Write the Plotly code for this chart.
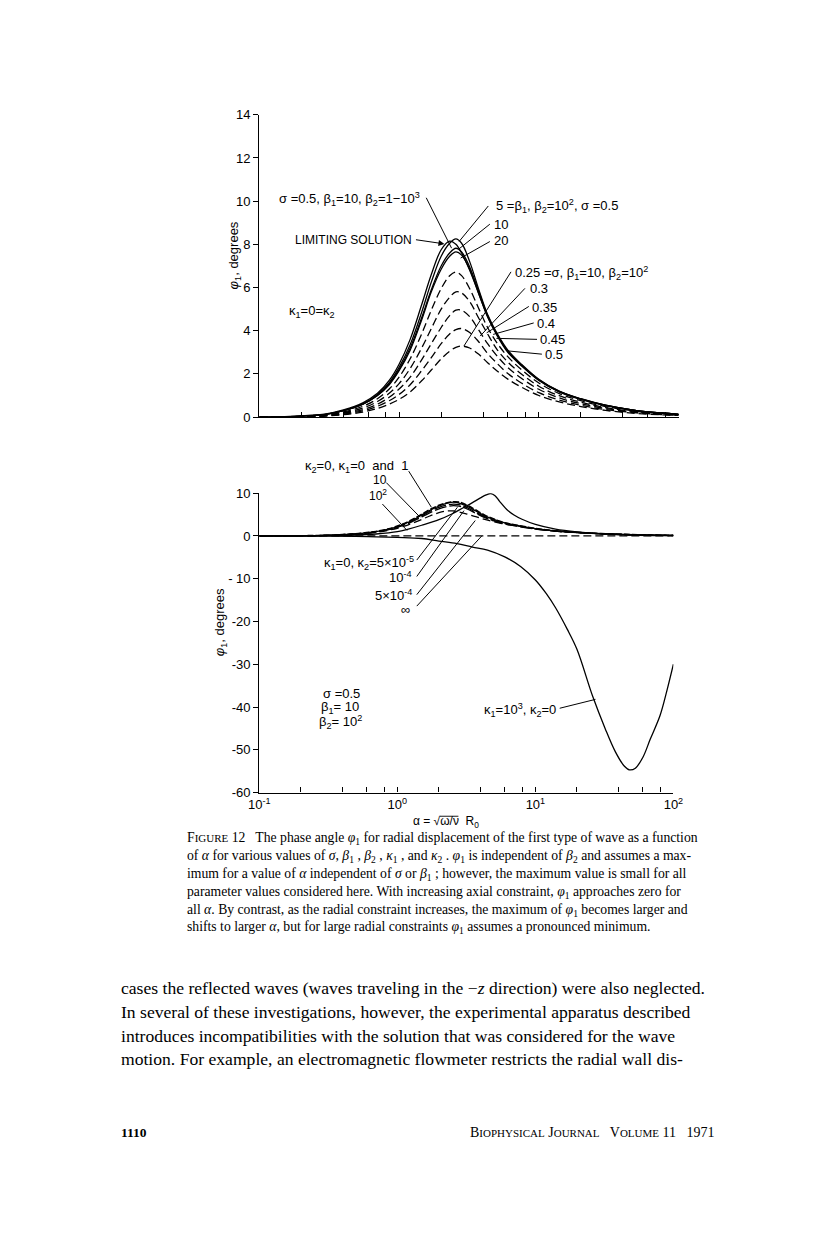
import plotly.graph_objects as go

# ---------------- data ----------------
ALPHA = [0.1, 0.2, 0.3, 0.4, 0.55, 0.7, 0.85, 1.0, 1.2, 1.45, 1.7, 2.0, 2.3, 2.55,
         2.8, 3.2, 3.7, 4.3, 5.0, 6.0, 7.5, 10, 14, 20, 30, 50, 75, 100]

# upper panel: kappa1 = 0 = kappa2
top_beta1_5 = [0.0, 0.05, 0.13, 0.3, 0.6, 1.05, 1.6, 2.3, 3.35, 4.85, 6.25, 7.45, 8.05, 8.25,
               8.05, 7.2, 5.95, 4.75, 3.9, 3.1, 2.45, 1.75, 1.2, 0.85, 0.55, 0.3, 0.19, 0.13]
top_beta1_10 = [0.0, 0.05, 0.13, 0.3, 0.6, 1.0, 1.55, 2.2, 3.2, 4.6, 5.9, 7.0, 7.6, 7.82,
                7.65, 6.95, 5.85, 4.7, 3.85, 3.05, 2.4, 1.72, 1.18, 0.83, 0.54, 0.3, 0.19, 0.13]
top_beta1_20 = [0.0, 0.05, 0.13, 0.3, 0.6, 1.0, 1.5, 2.15, 3.1, 4.5, 5.8, 6.85, 7.45, 7.65,
                7.5, 6.85, 5.75, 4.65, 3.8, 3.0, 2.38, 1.7, 1.17, 0.82, 0.53, 0.3, 0.19, 0.13]
top_limiting = [0.0, 0.06, 0.15, 0.33, 0.66, 1.1, 1.7, 2.45, 3.6, 5.2, 6.6, 7.75, 8.15, 8.0,
                7.6, 6.8, 5.75, 4.65, 3.85, 3.05, 2.42, 1.73, 1.19, 0.84, 0.55, 0.3, 0.19, 0.13]
top_sigma_045 = [0.0, 0.04, 0.11, 0.24, 0.5, 0.85, 1.3, 1.85, 2.7, 3.85, 4.95, 5.95, 6.55, 6.72,
                 6.55, 5.95, 5.05, 4.15, 3.45, 2.8, 2.2, 1.58, 1.09, 0.76, 0.49, 0.27, 0.17, 0.12]
top_sigma_040 = [0.0, 0.03, 0.09, 0.2, 0.42, 0.72, 1.1, 1.55, 2.25, 3.2, 4.1, 5.0, 5.55, 5.8,
                 5.75, 5.35, 4.6, 3.85, 3.15, 2.55, 2.0, 1.43, 0.99, 0.69, 0.44, 0.25, 0.15, 0.11]
top_sigma_035 = [0.0, 0.03, 0.08, 0.17, 0.35, 0.6, 0.92, 1.3, 1.85, 2.65, 3.4, 4.15, 4.7, 4.95,
                 4.95, 4.65, 4.05, 3.4, 2.85, 2.3, 1.8, 1.29, 0.89, 0.62, 0.4, 0.22, 0.14, 0.1]
top_sigma_030 = [0.0, 0.02, 0.06, 0.14, 0.29, 0.5, 0.76, 1.05, 1.5, 2.15, 2.75, 3.4, 3.85, 4.05,
                 4.1, 3.92, 3.5, 2.95, 2.5, 2.02, 1.58, 1.13, 0.79, 0.55, 0.35, 0.2, 0.12, 0.09]
top_sigma_025 = [0.0, 0.02, 0.05, 0.11, 0.23, 0.4, 0.6, 0.82, 1.17, 1.68, 2.18, 2.7, 3.05, 3.23,
                 3.29, 3.2, 2.92, 2.52, 2.15, 1.76, 1.39, 1.0, 0.7, 0.49, 0.31, 0.17, 0.11, 0.08]

# lower panel: sigma = 0.5, beta1 = 10, beta2 = 10^2
bot_k1_0 = [0.0, 0.05, 0.13, 0.3, 0.6, 1.0, 1.55, 2.2, 3.2, 4.6, 5.9, 7.0, 7.65, 7.9,
            7.7, 6.95, 5.85, 4.7, 3.85, 3.05, 2.4, 1.72, 1.18, 0.83, 0.54, 0.3, 0.19, 0.13]
bot_k1_10 = [0.0, 0.05, 0.14, 0.32, 0.63, 1.05, 1.6, 2.3, 3.35, 4.8, 6.1, 7.15, 7.75, 8.0,
             7.9, 7.2, 6.05, 4.85, 3.95, 3.1, 2.45, 1.75, 1.2, 0.84, 0.55, 0.3, 0.19, 0.13]
bot_k2_5em5 = [0.0, 0.05, 0.13, 0.29, 0.58, 0.97, 1.5, 2.1, 3.05, 4.4, 5.65, 6.7, 7.25, 7.45,
               7.3, 6.6, 5.55, 4.45, 3.65, 2.9, 2.3, 1.65, 1.14, 0.8, 0.52, 0.29, 0.18, 0.12]
bot_k2_1em4 = [0.0, 0.05, 0.12, 0.28, 0.55, 0.93, 1.43, 2.0, 2.9, 4.2, 5.35, 6.35, 6.9, 7.1,
               6.95, 6.3, 5.3, 4.3, 3.5, 2.8, 2.2, 1.6, 1.1, 0.77, 0.5, 0.28, 0.17, 0.12]
bot_k2_5em4 = [0.0, 0.04, 0.11, 0.25, 0.5, 0.85, 1.3, 1.8, 2.6, 3.65, 4.6, 5.45, 5.85, 5.85,
               5.6, 5.1, 4.5, 3.85, 3.3, 2.75, 2.3, 1.7, 1.15, 0.8, 0.51, 0.28, 0.17, 0.12]

ALPHA_INF = [0.1, 100]
bot_k2_inf = [0.0, 0.0]

ALPHA_K100 = [0.1, 0.2, 0.3, 0.5, 0.7, 1.0, 1.2, 1.5, 2.0, 2.5, 3.0, 3.5, 4.0, 4.4, 4.75,
              5.1, 5.5, 6.2, 7.0, 8.0, 10, 14, 20, 30, 50, 100]
bot_k1_100 = [0.0, 0.02, 0.06, 0.2, 0.45, 1.0, 1.6, 2.5, 3.8, 5.2, 6.6, 7.8, 8.9, 9.6, 9.9,
              9.4, 8.1, 6.2, 4.9, 3.9, 2.7, 1.6, 0.95, 0.5, 0.2, 0.06]

ALPHA_K1000 = [0.1, 0.3, 0.5, 0.7, 1.0, 1.5, 2.0, 2.7, 3.5, 4.5, 6.0, 7.85, 10, 12, 14, 17,
               20, 26, 32, 38, 44, 48, 53, 60, 68, 80, 90, 100]
bot_k1_1000 = [0.0, -0.02, -0.1, -0.2, -0.35, -0.6, -1.2, -1.8, -2.6, -3.3, -4.9, -7.2, -10.3,
               -13.5, -16.8, -21.8, -26.5, -37.5, -45.0, -50.5, -53.8, -54.7, -54.3, -51.8,
               -47.5, -42.0, -36.0, -30.0]

X_TICKVALS = [0.1, 0.2, 0.4, 0.6, 0.8, 1, 2, 4, 6, 8, 10, 20, 40, 60, 80, 100]
X_TICKTEXT = ["10<sup>-1</sup>", "", "", "", "", "10<sup>0</sup>", "", "", "", "",
              "10<sup>1</sup>", "", "", "", "", "10<sup>2</sup>"]
Y1_TICKVALS = [0, 2, 4, 6, 8, 10, 12, 14]
Y1_TICKTEXT = ["0", "2", "4", "6", "8", "10", "12", "14"]
Y2_TICKVALS = [10, 0, -10, -20, -30, -40, -50, -60]
Y2_TICKTEXT = ["10", "0", "- 10", "-20", "-30", "-40", "-50", "-60"]

# ---------------- page geometry helpers ----------------
W, H = 816, 1247


def PX(x):
    return x / W


def PY(y):
    return 1 - y / H


SANS = "Liberation Sans"
SERIF = "Liberation Serif"
DASH = "8px,4px"
LONGDASH = "12px,3px"
LW = 1.3

fig = go.Figure()


def add(xs, ys, dash="solid", axis=1, width=LW):
    fig.add_trace(go.Scatter(
        x=xs, y=ys, mode="lines",
        xaxis="x" if axis == 1 else "x2", yaxis="y" if axis == 1 else "y2",
        line=dict(color="black", width=width, dash=dash, shape="spline", smoothing=1.0),
        hoverinfo="skip", showlegend=False))


# upper panel
for ys in [top_sigma_025, top_sigma_030, top_sigma_035, top_sigma_040, top_sigma_045]:
    add(ALPHA, ys, DASH, 1)
for ys in [top_beta1_20, top_beta1_10, top_beta1_5, top_limiting]:
    add(ALPHA, ys, "solid", 1)

# lower panel
add(ALPHA_INF, bot_k2_inf, DASH, 2)
add(ALPHA, bot_k2_5em4, DASH, 2)
add(ALPHA, bot_k2_1em4, LONGDASH, 2)
add(ALPHA, bot_k2_5em5, LONGDASH, 2)
add(ALPHA, bot_k1_10, "6px,2px", 2, 1.6)
add(ALPHA, bot_k1_0, "solid", 2)
add(ALPHA_K100, bot_k1_100, "solid", 2)
add(ALPHA_K1000, bot_k1_1000, "solid", 2)

axis_common = dict(showgrid=False, zeroline=False, showline=True, linecolor="black",
                   linewidth=1.4, tickcolor="black", tickwidth=1.2,
                   tickfont=dict(family=SANS, size=13, color="black"))

layout = dict(
    width=W, height=H, autosize=False,
    margin=dict(l=0, r=0, t=0, b=0),
    paper_bgcolor="white", plot_bgcolor="white",
    showlegend=False, hovermode=False,
    xaxis=dict(type="log", range=[-1, 2], domain=[PX(246.7), PX(677)], anchor="y",
               tickmode="array", tickvals=X_TICKVALS, ticktext=[""] * len(X_TICKVALS),
               ticks="inside", ticklen=5, **axis_common),
    yaxis=dict(range=[0, 14], domain=[PY(407), PY(101)], anchor="x",
               tickmode="array", tickvals=Y1_TICKVALS, ticktext=Y1_TICKTEXT,
               ticks="outside", ticklen=5, **axis_common),
    xaxis2=dict(type="log", range=[-1, 2], domain=[PX(246.7), PX(671.7)], anchor="y2",
                tickmode="array", tickvals=X_TICKVALS, ticktext=X_TICKTEXT,
                ticks="inside", ticklen=5, **axis_common),
    yaxis2=dict(range=[-60, 10], domain=[PY(787), PY(484)], anchor="x2",
                tickmode="array", tickvals=Y2_TICKVALS, ticktext=Y2_TICKTEXT,
                ticks="outside", ticklen=5, **axis_common),
)

annotations = []
shapes = []


def text(s, x, y, anchor="left", size=13, family=SANS, angle=0):
    annotations.append(dict(text=s, x=PX(x), y=PY(y), xref="paper", yref="paper",
                            xanchor=anchor, yanchor="middle", showarrow=False,
                            textangle=angle,
                            font=dict(family=family, size=size, color="black")))


def seg(x0, y0, x1, y1, w=1.0):
    shapes.append(dict(type="line", xref="paper", yref="paper",
                       x0=PX(x0), y0=PY(y0), x1=PX(x1), y1=PY(y1),
                       line=dict(color="black", width=w)))


# axis titles
text("<i>φ</i><sub>1</sub>, degrees", 221, 243, "center", 13, SANS, -90)
text("<i>φ</i><sub>1</sub>, degrees", 207, 615, "center", 13, SANS, -90)
text("α = √ω/ν  R<sub>0</sub>", 438, 817, "center", 12)
seg(432, 811, 451, 811, 0.9)  # vinculum of the square root

# upper panel labels
text("σ =0.5, β<sub>1</sub>=10, β<sub>2</sub>=1−10<sup>3</sup>", 414, 186, "right")
seg(418, 185, 444, 236)
text("LIMITING SOLUTION", 405, 228, "right", 12)
annotations.append(dict(x=PX(436.7), y=PY(231.7), xref="paper", yref="paper",
                        ax=-30, ay=-4.4, axref="pixel", ayref="pixel",
                        text="", showarrow=True, arrowhead=2, arrowsize=1.2,
                        arrowwidth=1.0, arrowcolor="black"))
text("5 =β<sub>1</sub>, β<sub>2</sub>=10<sup>2</sup>, σ =0.5", 488, 193)
seg(481.7, 193.3, 451.7, 229.3)
text("10", 485, 212)
seg(483.3, 211.7, 451.7, 236.7)
text("20", 485, 228)
seg(483.3, 229.3, 453.3, 246)
text("0.25 =σ, β<sub>1</sub>=10, β<sub>2</sub>=10<sup>2</sup>", 507, 261)
seg(505, 260, 456.7, 335)
text("0.3", 522, 277)
seg(519.3, 276.7, 473.3, 325)
text("0.35", 525, 296)
seg(523.3, 295, 480, 321.7)
text("0.4", 530, 312)
seg(528.3, 311.7, 486.7, 323.3)
text("0.45", 533, 328)
seg(531.7, 328.3, 490, 327.3)
text("0.5", 538, 344)
seg(536.7, 343.3, 501.7, 340)
text("κ<sub>1</sub>=0=κ<sub>2</sub>", 275, 300)

# lower panel labels
text("κ<sub>2</sub>=0, κ<sub>1</sub>=0  and  1", 292, 457)
seg(400, 461.7, 423.3, 498.3)
text("10", 361, 471, "left", 12)
seg(377, 473.3, 411.7, 508.3)
text("10<sup>2</sup>", 357, 486, "left", 12)
seg(373, 495, 398.3, 521.7)
text("κ<sub>1</sub>=0, κ<sub>2</sub>=5×10<sup>-5</sup>", 407, 555, "right")
seg(408.3, 551.7, 450, 498.3)
text("10<sup>-4</sup>", 405, 569, "right")
seg(408.3, 568.3, 456.7, 501.7)
text("5×10<sup>-4</sup>", 405, 587, "right")
seg(408.3, 586.7, 468.3, 511.7)
text("∞", 403, 602, "right")
seg(408.3, 598.3, 475, 527.3)
text("σ =0.5", 331, 687, "center")
text("β<sub>1</sub>= 10", 329, 701, "center")
text("β<sub>2</sub>= 10<sup>2</sup>", 330, 716, "center")
text("κ<sub>1</sub>=10<sup>3</sup>, κ<sub>2</sub>=0", 553, 703, "right")
seg(555, 701.7, 591.7, 692.7)

# caption
CAPTION = [
    "F<span style='font-size:11px'>IGURE</span> 12   The phase angle <i>φ</i><sub>1</sub> for radial displacement of the first type of wave as a function",
    "of <i>α</i> for various values of <i>σ</i>, <i>β</i><sub>1</sub> , <i>β</i><sub>2</sub> , <i>κ</i><sub>1</sub> , and <i>κ</i><sub>2</sub> . <i>φ</i><sub>1</sub> is independent of <i>β</i><sub>2</sub> and assumes a max-",
    "imum for a value of <i>α</i> independent of <i>σ</i> or <i>β</i><sub>1</sub> ; however, the maximum value is small for all",
    "parameter values considered here. With increasing axial constraint, <i>φ</i><sub>1</sub> approaches zero for",
    "all <i>α</i>. By contrast, as the radial constraint increases, the maximum of <i>φ</i><sub>1</sub> becomes larger and",
    "shifts to larger <i>α</i>, but for large radial constraints <i>φ</i><sub>1</sub> assumes a pronounced minimum.",
]
for i, line in enumerate(CAPTION):
    text(line, 170, 834 + 18 * i, "left", 13.7, SERIF)

BODY = [
    "cases the reflected waves (waves traveling in the −<i>z</i> direction) were also neglected.",
    "In several of these investigations, however, the experimental apparatus described",
    "introduces incompatibilities with the solution that was considered for the wave",
    "motion. For example, an electromagnetic flowmeter restricts the radial wall dis-",
]
for i, line in enumerate(BODY):
    text(line, 103, 985 + 24 * i, "left", 17.6, SERIF)

text("<b>1110</b>", 103, 1131, "left", 13.5, SERIF)
text("B<span style='font-size:11px'>IOPHYSICAL</span> J<span style='font-size:11px'>OURNAL</span>   "
     "V<span style='font-size:11px'>OLUME</span> 11   1971", 716, 1131, "right", 14, SERIF)

layout["annotations"] = annotations
layout["shapes"] = shapes
fig.update_layout(**layout)
fig.write_html("out.html")
